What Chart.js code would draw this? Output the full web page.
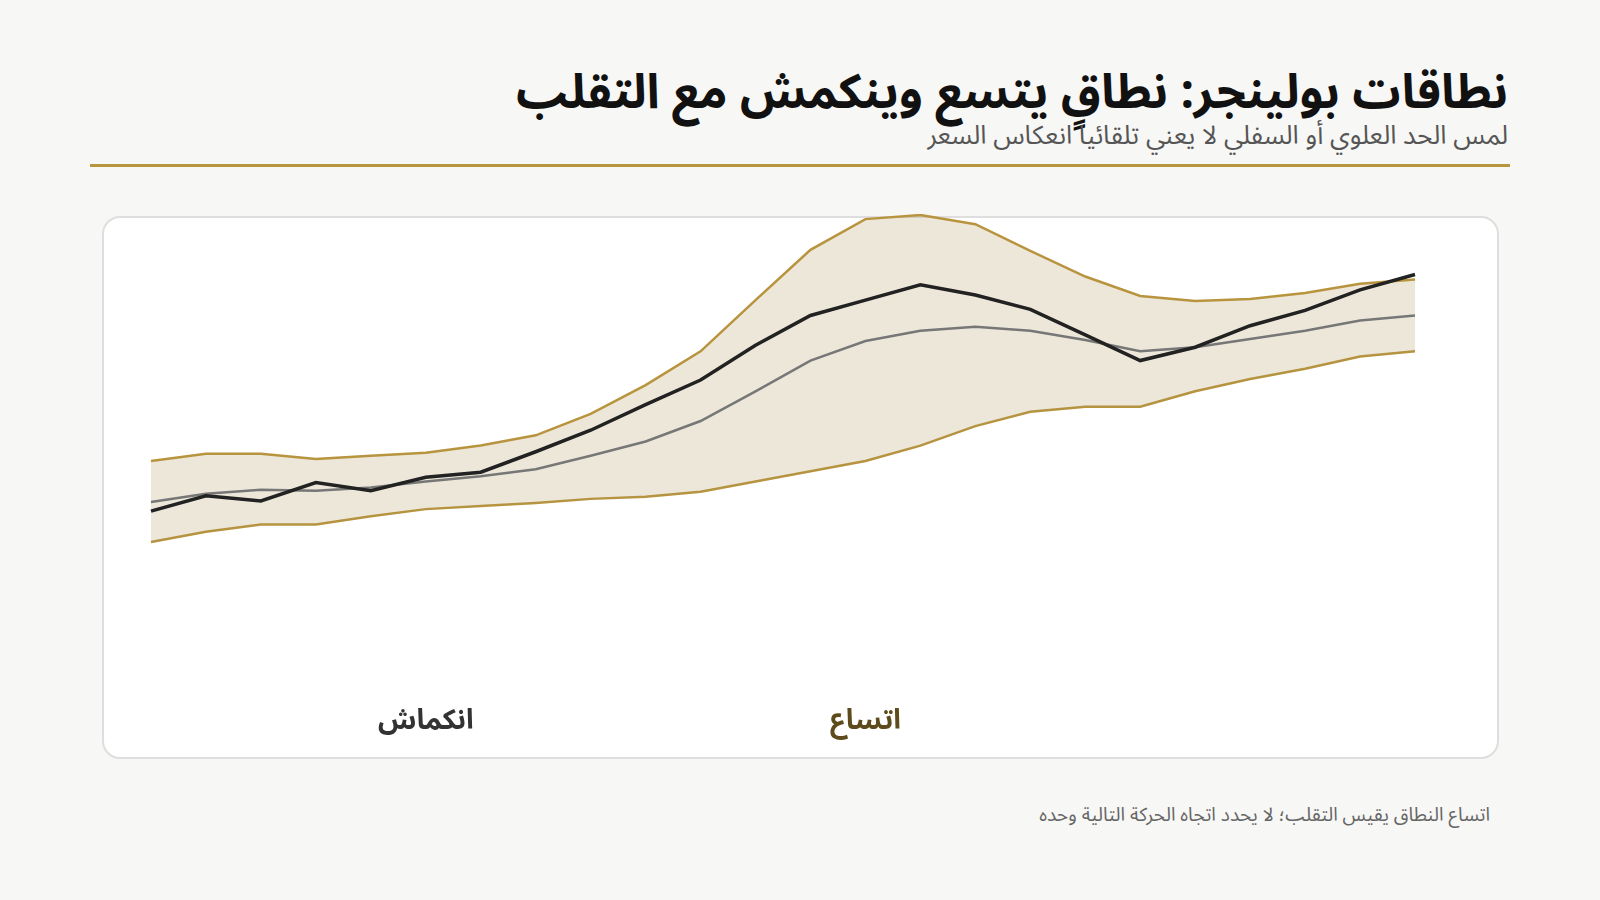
<!DOCTYPE html>
<html lang="ar" dir="rtl">
<head>
<meta charset="utf-8">
<script src="https://cdn.jsdelivr.net/npm/chart.js@4.4.1/dist/chart.umd.min.js"></script>
<style>
  html, body { margin: 0; padding: 0; }
  body {
    width: 1600px; height: 900px; background: #f7f7f5; position: relative; overflow: hidden;
    font-family: "Noto Sans Arabic", "Noto Sans", "DejaVu Sans", sans-serif;
  }
  h1 {
    position: absolute; right: 92px; top: 64px; margin: 0;
    font-size: 48px; font-weight: 700; color: #111; line-height: 1.2; white-space: nowrap;
  }
  .sub {
    position: absolute; right: 92px; top: 108px; margin: 0;
    font-size: 26px; color: #555; white-space: nowrap;
  }
  .rule { position: absolute; left: 90px; width: 1420px; top: 164px; height: 3px; background: #b8963e; }
  .card {
    position: absolute; left: 102px; top: 216px; width: 1393px; height: 539px;
    background: #fff; border: 2px solid #dedede; border-radius: 18px;
  }
  #wrap { position: absolute; left: 102px; top: 214px; width: 1397px; height: 545px; }
  .note {
    position: absolute; right: 110px; top: 795px; margin: 0;
    font-size: 19px; color: #666; white-space: nowrap;
  }
</style>
</head>
<body>
<h1>نطاقات بولينجر: نطاقٍ يتسع وينكمش مع التقلب</h1>
<p class="sub">لمس الحد العلوي أو السفلي لا يعني تلقائيا انعكاس السعر</p>
<div class="rule"></div>
<div class="card"></div>
<div id="wrap"><canvas id="bands"></canvas></div>
<p class="note">اتساع النطاق يقيس التقلب؛ لا يحدد اتجاه الحركة التالية وحده</p>

<script>
// DATA
const labels = ["", "", "", "", "", "انكماش", "", "", "", "", "", "", "", "اتساع", "", "", "", "", "", "", "", "", "", ""];
const price = [100.0, 101.5, 101.0, 102.8, 102.0, 103.3, 103.8, 105.8, 107.9, 110.4, 112.8, 116.2, 119.1, 120.6, 122.1, 121.1, 119.7, 117.2, 114.7, 116.0, 118.1, 119.6, 121.6, 123.1];
const middle = [100.9, 101.7, 102.1, 102.0, 102.3, 102.9, 103.4, 104.1, 105.4, 106.8, 108.8, 111.7, 114.7, 116.6, 117.6, 118.0, 117.6, 116.7, 115.6, 116.0, 116.8, 117.6, 118.6, 119.1];
const upper = [104.9, 105.6, 105.6, 105.1, 105.4, 105.7, 106.4, 107.4, 109.5, 112.3, 115.6, 120.6, 125.5, 128.5, 128.9, 128.0, 125.4, 122.9, 121.0, 120.5, 120.7, 121.3, 122.2, 122.6];
const lower = [97.0, 98.0, 98.7, 98.7, 99.5, 100.2, 100.5, 100.8, 101.2, 101.4, 101.9, 102.9, 103.9, 104.9, 106.4, 108.3, 109.7, 110.2, 110.2, 111.7, 112.9, 113.9, 115.1, 115.6];
const labelColors = { "انكماش": "#333333", "اتساع": "#5e4b1c" };

const gold = "#b8943e";

new Chart(document.getElementById("bands"), {
  type: "line",
  data: {
    labels: labels,
    datasets: [
      { label: "السعر", data: price, borderColor: "#222", borderWidth: 3.5, pointRadius: 0, fill: false, order: 0 },
      { label: "المتوسط", data: middle, borderColor: "#777", borderWidth: 2.5, pointRadius: 0, fill: false, order: 1 },
      { label: "الحد العلوي", data: upper, borderColor: gold, borderWidth: 2.5, pointRadius: 0,
        fill: "+1", backgroundColor: "rgba(170,145,80,0.22)", order: 2 },
      { label: "الحد السفلي", data: lower, borderColor: gold, borderWidth: 2.5, pointRadius: 0, fill: false, order: 3 }
    ]
  },
  options: {
    responsive: true,
    maintainAspectRatio: false,
    animation: false,
    layout: { padding: { left: 49, right: 84, top: 0, bottom: 3 } },
    plugins: { legend: { display: false }, tooltip: { enabled: false } },
    elements: { line: { tension: 0 } },
    scales: {
      x: {
        grid: { display: false },
        border: { display: false },
        ticks: {
          autoSkip: false, maxRotation: 0, padding: 14,
          font: { size: 28, weight: "bold", family: "'Noto Sans Arabic', 'Noto Sans', sans-serif" },
          color: ctx => labelColors[labels[ctx.index]] || "#333"
        }
      },
      y: { display: false, min: 82.9, max: 129.0 }
    }
  }
});
</script>
</body>
</html>
